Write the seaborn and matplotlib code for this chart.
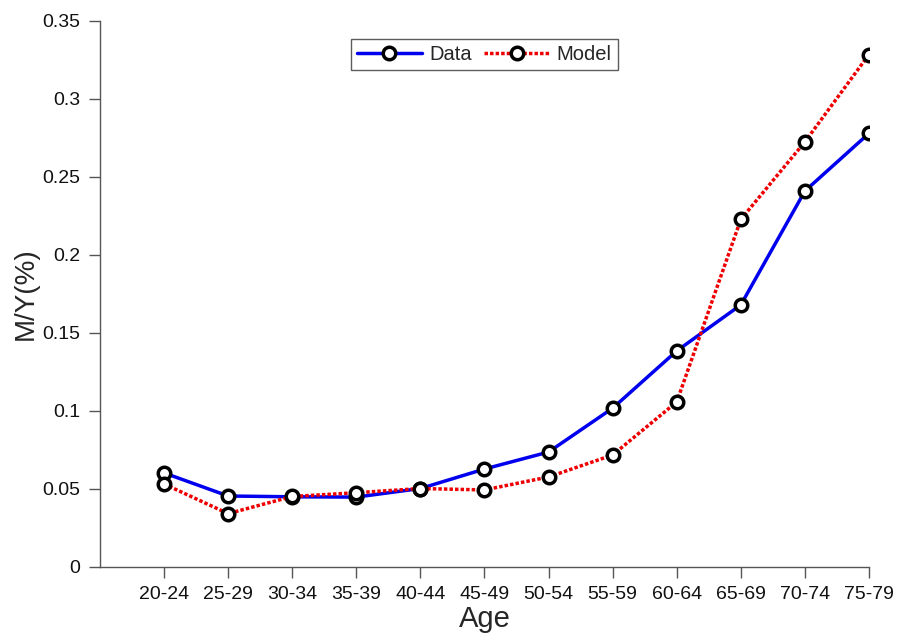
import matplotlib
matplotlib.use("Agg")
import matplotlib.pyplot as plt
import seaborn as sns
import pandas as pd

ages = ["20-24", "25-29", "30-34", "35-39", "40-44", "45-49",
        "50-54", "55-59", "60-64", "65-69", "70-74", "75-79"]
data_vals = [0.0603, 0.0455, 0.0450, 0.0448, 0.0503, 0.0628,
             0.0737, 0.1018, 0.1385, 0.1680, 0.2410, 0.2780]
model_vals = [0.0532, 0.0342, 0.0452, 0.0476, 0.0503, 0.0494,
              0.0577, 0.0718, 0.1058, 0.2228, 0.2725, 0.3285]
yticks = [0, 0.05, 0.1, 0.15, 0.2, 0.25, 0.3, 0.35]
ytick_labels = ["0", "0.05", "0.1", "0.15", "0.2", "0.25", "0.3", "0.35"]

sns.set_style("white")
plt.rcParams["font.family"] = ["Liberation Sans", "DejaVu Sans"]

fig = plt.figure(figsize=(8.99, 6.34), dpi=100)
ax = fig.add_axes([0.1112, 0.1057, 0.8554, 0.8612])

df = pd.DataFrame({"Age": ages, "Data": data_vals, "Model": model_vals})
x = list(range(len(ages)))
df["x"] = x

marker_kw = dict(marker="o", markersize=9, markerfacecolor="white",
                 markeredgecolor="black", markeredgewidth=2.5)
sns.lineplot(data=df, x="x", y="Data", ax=ax, color="#0000ee", lw=2.5,
             label="Data", **marker_kw)
sns.lineplot(data=df, x="x", y="Model", ax=ax, color="#ee0000", lw=2.5,
             linestyle=(0, (1, 0.6)), label="Model", **marker_kw)

ax.set_xlim(-1, 11)
ax.set_ylim(0, 0.35)
ax.set_xticks(x)
ax.set_xticklabels(ages)
ax.set_yticks(yticks)
ax.set_yticklabels(ytick_labels)
ax.set_xlabel("Age", fontsize=21, labelpad=1)
ax.set_ylabel("M/Y(%)", fontsize=20, labelpad=3)

for s in ["top", "right"]:
    ax.spines[s].set_visible(False)
for s in ["left", "bottom"]:
    ax.spines[s].set_color("#555555")
    ax.spines[s].set_linewidth(1.0)
ax.tick_params(axis="both", which="major", direction="out", length=8,
               width=1.0, color="#555555", labelsize=14, labelcolor="#111111",
               left=True, bottom=True, pad=6)

leg = ax.legend(loc="upper center", bbox_to_anchor=(0.5, 0.985), ncol=2,
                fontsize=14.5, frameon=True, fancybox=False, handlelength=3.2,
                columnspacing=0.6, handletextpad=0.4, borderpad=0.3)
leg.get_frame().set_edgecolor("#333333")
leg.get_frame().set_linewidth(1.0)

fig.savefig("out.png", dpi=100)
